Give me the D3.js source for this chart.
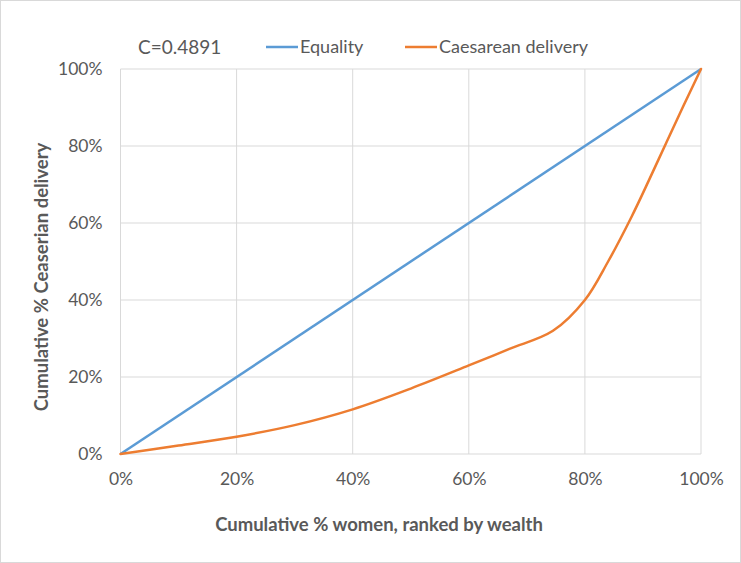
<!DOCTYPE html>
<html><head><meta charset="utf-8">
<script src="https://cdn.jsdelivr.net/npm/d3@7"></script>
<style>body{margin:0;background:#fff}svg{display:block}</style>
</head><body>
<script>
const xTicks = [0, 20, 40, 60, 80, 100];
const yTicks = [0, 20, 40, 60, 80, 100];
const equalityX = [0, 100];
const equalityY = [0, 100];
const caesX = [0, 10, 20, 30, 40, 50, 60, 67, 74.5, 80, 84, 88, 91, 94, 97, 100];
const caesY = [0, 2.2, 4.5, 7.5, 11.6, 17, 23, 27.3, 32, 40, 50, 61.5, 71, 80.8, 90.5, 100];
const seriesNames = ["Equality", "Caesarean delivery"];
const colors = ["#5b9bd5", "#ed7d31"];
const cText = "C=0.4891";
const xTitle = "Cumulative % women, ranked by wealth";
const yTitle = "Cumulative % Ceaserian delivery";

const W = 741, H = 563;
const m = {l: 120.5, r: W - 701, t: 69, b: H - 454};
const font = "Lato, 'Open Sans', sans-serif";
const svg = d3.select("body").append("svg").attr("width", W).attr("height", H);
svg.append("rect").attr("x", 0.5).attr("y", 0.5).attr("width", W - 1).attr("height", H - 1)
  .attr("fill", "#fff").attr("stroke", "#d9d9d9");

const x = d3.scaleLinear().domain([0, 100]).range([m.l, W - m.r]);
const y = d3.scaleLinear().domain([0, 100]).range([H - m.b, m.t]);

// gridlines
const g = svg.append("g");
g.selectAll(".vg").data(xTicks).join("line")
  .attr("x1", d => x(d)).attr("x2", d => x(d)).attr("y1", y(0)).attr("y2", y(100))
  .attr("stroke", "#d9d9d9").attr("stroke-width", 1);
g.selectAll(".hg").data(yTicks).join("line")
  .attr("x1", x(0)).attr("x2", x(100)).attr("y1", d => y(d)).attr("y2", d => y(d))
  .attr("stroke", "#d9d9d9").attr("stroke-width", 1);

// axes
const xAxis = svg.append("g").attr("transform", `translate(0,${y(0)})`)
  .call(d3.axisBottom(x).tickValues(xTicks).tickFormat(d => d + "%").tickSize(0).tickPadding(19));
const yAxis = svg.append("g").attr("transform", `translate(${x(0)},0)`)
  .call(d3.axisLeft(y).tickValues(yTicks).tickFormat(d => d + "%").tickSize(0).tickPadding(18));
[xAxis, yAxis].forEach(a => {
  a.select(".domain").remove();
  a.selectAll("text").attr("fill", "#595959").style("font-family", font).style("font-size", "17.5px");
});

// lines
const line = d3.line().x(d => x(d[0])).y(d => y(d[1])).curve(d3.curveCatmullRom.alpha(0.5));
svg.append("path").datum(equalityX.map((v, i) => [v, equalityY[i]]))
  .attr("d", d3.line().x(d => x(d[0])).y(d => y(d[1])))
  .attr("fill", "none").attr("stroke", colors[0]).attr("stroke-width", 2.5);
svg.append("path").datum(caesX.map((v, i) => [v, caesY[i]]))
  .attr("d", line).attr("fill", "none").attr("stroke", colors[1]).attr("stroke-width", 2.5)
  .attr("stroke-linecap", "round");

// titles
svg.append("text").attr("x", 379).attr("y", 531).attr("text-anchor", "middle")
  .attr("fill", "#595959").style("font-family", font).style("font-size", "18.5px").style("font-weight", "bold")
  .text(xTitle);
svg.append("text").attr("transform", `translate(48,277) rotate(-90)`)
  .attr("text-anchor", "middle").attr("fill", "#595959")
  .style("font-family", font).style("font-size", "18.5px").style("font-weight", "bold")
  .text(yTitle);

// C label
svg.append("text").attr("x", 138).attr("y", 54).attr("fill", "#595959")
  .style("font-family", font).style("font-size", "19px").text(cText);

// legend
const leg = [{x: 266, name: seriesNames[0], c: colors[0]}, {x: 405, name: seriesNames[1], c: colors[1]}];
leg.forEach(l => {
  svg.append("line").attr("x1", l.x).attr("x2", l.x + 32).attr("y1", 47).attr("y2", 47)
    .attr("stroke", l.c).attr("stroke-width", 2.5);
  svg.append("text").attr("x", l.x + 34).attr("y", 53).attr("fill", "#595959")
    .style("font-family", font).style("font-size", "18px").text(l.name);
});
</script>
</body></html>
